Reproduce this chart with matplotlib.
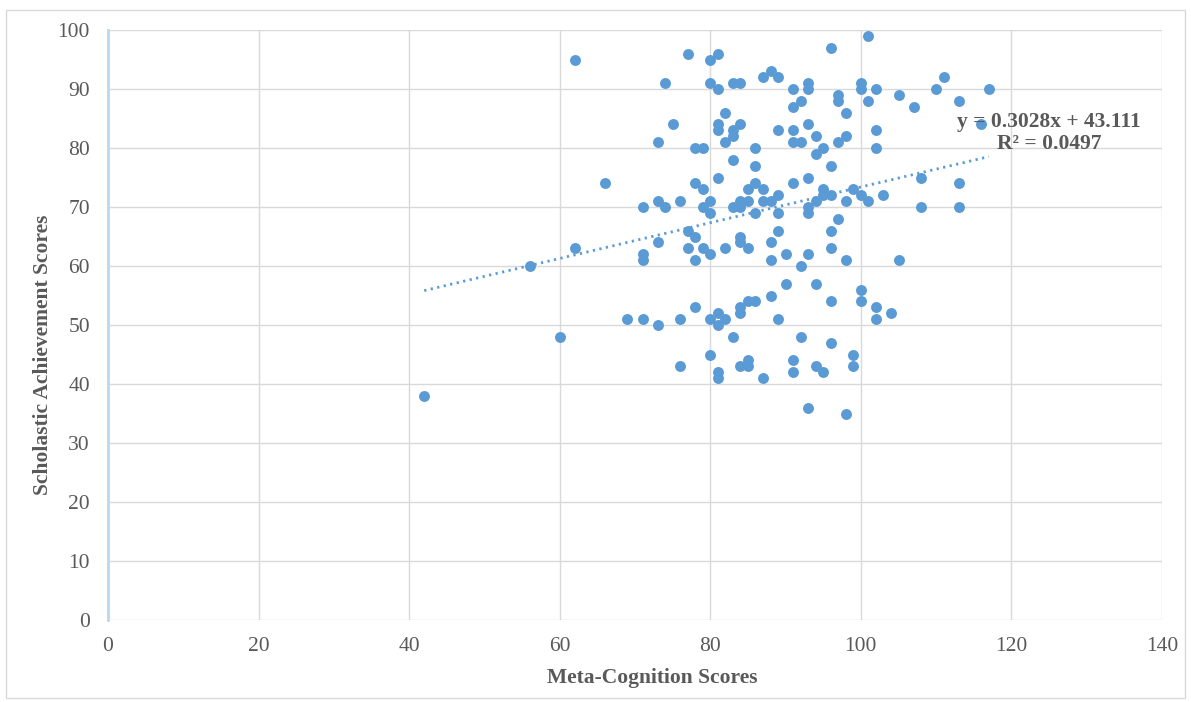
import matplotlib
matplotlib.use("Agg")
import matplotlib.pyplot as plt
import numpy as np
from matplotlib.patches import Rectangle

plt.rcParams['font.family'] = ['Liberation Serif', 'DejaVu Serif']

# meta-cognition scores (x) and scholastic achievement scores (y)
meta = [101, 96, 77, 81, 62, 80, 88,
        87, 89, 111,
        74, 80, 83, 84, 93, 100,
        81, 91, 93, 100, 102, 110, 117,
        97, 105,
        92, 97, 101, 113,
        91, 107,
        82, 98,
        75, 81, 84, 93, 116,
        81, 83, 89, 91, 102,
        83, 94, 98,
        73, 82, 91, 92, 97,
        78, 79, 86, 95, 102,
        94, 83, 86, 96,
        81, 93, 108,
        66, 78, 86, 91, 113,
        79, 85, 87, 95, 99,
        89, 95, 96, 100, 103,
        73, 76, 80, 84, 85, 87, 88, 94, 98, 101,
        71, 74, 79, 83, 84, 93, 108, 113,
        80, 86, 89, 93,
        97,
        77, 89, 96,
        78, 84,
        73, 84, 88,
        62, 77, 79, 82, 85, 96,
        71, 80, 90, 93,
        71, 78, 88, 98, 105,
        56, 92,
        90, 94,
        100, 88,
        85, 86, 96, 100,
        78, 84, 102,
        81, 84, 104,
        69, 71, 76, 80, 82, 89, 102,
        73, 81,
        60, 83, 92,
        96,
        80, 99,
        85, 91,
        76, 84, 85, 94, 99,
        81, 91, 95,
        81, 87,
        42, 93, 98]

scholastic = [99, 97, 96, 96, 95, 95, 93,
              92, 92, 92,
              91, 91, 91, 91, 91, 91,
              90, 90, 90, 90, 90, 90, 90,
              89, 89,
              88, 88, 88, 88,
              87, 87,
              86, 86,
              84, 84, 84, 84, 84,
              83, 83, 83, 83, 83,
              82, 82, 82,
              81, 81, 81, 81, 81,
              80, 80, 80, 80, 80,
              79, 78, 77, 77,
              75, 75, 75,
              74, 74, 74, 74, 74,
              73, 73, 73, 73, 73,
              72, 72, 72, 72, 72,
              71, 71, 71, 71, 71, 71, 71, 71, 71, 71,
              70, 70, 70, 70, 70, 70, 70, 70,
              69, 69, 69, 69,
              68,
              66, 66, 66,
              65, 65,
              64, 64, 64,
              63, 63, 63, 63, 63, 63,
              62, 62, 62, 62,
              61, 61, 61, 61, 61,
              60, 60,
              57, 57,
              56, 55,
              54, 54, 54, 54,
              53, 53, 53,
              52, 52, 52,
              51, 51, 51, 51, 51, 51, 51,
              50, 50,
              48, 48, 48,
              47,
              45, 45,
              44, 44,
              43, 43, 43, 43, 43,
              42, 42, 42,
              41, 41,
              38, 36, 35]

# trendline as reported on the chart
slope = 0.3028
intercept = 43.111
equation = "y = 0.3028x + 43.111\nR² = 0.0497"

x_ticks = [0, 20, 40, 60, 80, 100, 120, 140]
y_ticks = [0, 10, 20, 30, 40, 50, 60, 70, 80, 90, 100]

blue = '#5B9BD5'
grey_text = '#595959'

W, H = 1191, 702
fig = plt.figure(figsize=(W / 100, H / 100), dpi=100)
ax = fig.add_axes([108 / W, 1 - 620 / H, (1162 - 108) / W, (620 - 30) / H])

# outer chart frame
fig.patches.append(Rectangle((6 / W, 4 / H), 1179 / W, 688 / H,
                             transform=fig.transFigure, fill=False,
                             edgecolor='#D9D9D9', linewidth=1))

ax.scatter(meta, scholastic, s=62, color=blue, zorder=3, linewidths=0)

tx = np.array([min(meta), max(meta)])
ax.plot(tx, slope * tx + intercept, color=blue, linewidth=2,
        linestyle=(0, (0.8, 1.6)), zorder=2)

fig.text(1049 / W, 1 - 133 / H, equation, ha='center', va='center',
         fontsize=15.5, fontweight='bold', color=grey_text, linespacing=1.15)

ax.set_xlim(0, 140)
ax.set_ylim(0, 100)
ax.set_xticks(x_ticks)
ax.set_yticks(y_ticks)
ax.grid(True, color='#D9D9D9', linewidth=1)
ax.set_axisbelow(True)
for side in ['top', 'right', 'bottom']:
    ax.spines[side].set_visible(False)
ax.spines['left'].set_color('#BDD7EE')
ax.spines['left'].set_linewidth(2)
ax.tick_params(length=0, labelsize=15.5, labelcolor=grey_text)
ax.tick_params(axis='y', pad=13)
ax.tick_params(axis='x', pad=12)

fig.text(652 / W, 1 - 678 / H, 'Meta-Cognition Scores', ha='center', va='center',
         fontsize=15.5, fontweight='bold', color=grey_text)
fig.text(43 / W, 1 - 355 / H, 'Scholastic Achievement Scores', ha='center',
         va='center', rotation=90, fontsize=15.5, fontweight='bold', color=grey_text)

fig.savefig('out.png', dpi=100)
